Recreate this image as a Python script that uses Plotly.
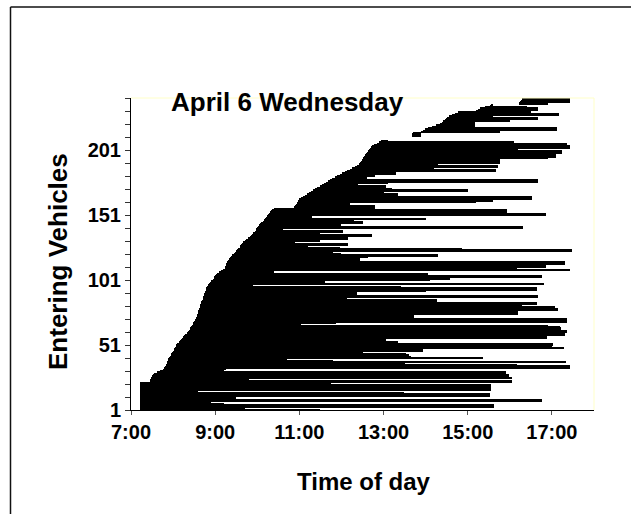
import plotly.graph_objects as go

# Entry (start) and exit (end) time of each vehicle, in decimal hours, ordered by entry
starts = [
    7.22, 7.22, 7.22, 7.22, 7.22, 7.22, 7.22, 7.22, 7.22, 7.22,
    7.22, 7.22, 7.22, 7.22, 7.22, 7.22, 7.22, 7.22, 7.22, 7.22,
    7.22, 7.22, 7.45, 7.45, 7.47, 7.48, 7.50, 7.52, 7.55, 7.62,
    7.70, 7.76, 7.78, 7.80, 7.82, 7.83, 7.85, 7.86, 7.88, 7.89,
    7.90, 7.92, 7.94, 7.96, 7.98, 8.00, 8.01, 8.03, 8.04, 8.06,
    8.08, 8.10, 8.13, 8.16, 8.18, 8.20, 8.23, 8.26, 8.29, 8.32,
    8.35, 8.37, 8.39, 8.41, 8.43, 8.45, 8.47, 8.48, 8.50, 8.52,
    8.54, 8.55, 8.56, 8.57, 8.58, 8.59, 8.60, 8.61, 8.62, 8.63,
    8.64, 8.65, 8.66, 8.67, 8.68, 8.70, 8.71, 8.72, 8.73, 8.74,
    8.75, 8.76, 8.77, 8.78, 8.79, 8.81, 8.83, 8.85, 8.88, 8.91,
    8.94, 8.96, 8.98, 9.00, 9.02, 9.04, 9.08, 9.13, 9.18, 9.23,
    9.24, 9.25, 9.26, 9.27, 9.28, 9.30, 9.32, 9.35, 9.38, 9.41,
    9.44, 9.47, 9.50, 9.53, 9.55, 9.58, 9.60, 9.62, 9.64, 9.66,
    9.70, 9.74, 9.78, 9.82, 9.85, 9.88, 9.91, 9.94, 9.96, 9.98,
    10.00, 10.02, 10.04, 10.07, 10.10, 10.13, 10.16, 10.19, 10.21, 10.23,
    10.25, 10.28, 10.30, 10.32, 10.35, 10.40, 10.88, 10.90, 10.92, 10.94,
    10.96, 10.97, 10.99, 11.03, 11.08, 11.13, 11.18, 11.23, 11.28, 11.32,
    11.38, 11.43, 11.48, 11.53, 11.58, 11.63, 11.68, 11.73, 11.78, 11.84,
    11.90, 11.96, 12.02, 12.08, 12.13, 12.20, 12.26, 12.32, 12.37, 12.41,
    12.44, 12.46, 12.48, 12.50, 12.52, 12.54, 12.56, 12.58, 12.60, 12.62,
    12.65, 12.68, 12.70, 12.73, 12.78, 12.84, 12.90, 12.95, 13.20, 13.35,
    13.50, 13.67, 13.68, 13.70, 13.90, 13.94, 13.98, 14.05, 14.15, 14.25,
    14.33, 14.38, 14.42, 14.46, 14.48, 14.50, 14.55, 14.62, 14.70, 14.76,
    15.20, 15.25, 15.30, 15.40, 15.53, 15.55, 16.22, 16.24, 16.26, 16.30,
    16.64,
]

ends = [
    11.5, 9.45, 9.7, 15.63, 15.63, 9.2, 8.9, 16.76, 16.76, 9.5,
    9.3, 15.53, 15.53, 13.49, 8.6, 8.5, 15.55, 15.55, 15.55, 15.55,
    11.74, 11.74, 16.05, 9.8, 9.4, 16.05, 15.99, 15.99, 9.1, 15.9,
    9.15, 9.2, 9.25, 17.42, 17.42, 16.16, 13.5, 17.33, 11.79, 10.7,
    15.36, 13.65, 13.6, 13.53, 11.39, 12.5, 13.93, 12.2, 17.29, 17.0,
    17.02, 17.02, 13.35, 10.5, 13.07, 10.73, 16.88, 16.88, 17.31, 17.31,
    17.37, 17.37, 17.21, 17.21, 17.2, 16.9, 11.03, 11.88, 17.37, 17.37,
    17.37, 13.73, 13.73, 11.31, 16.2, 16.2, 16.2, 17.15, 17.15, 17.08,
    16.28, 16.28, 16.64, 12.97, 14.26, 14.26, 12.12, 16.68, 16.68, 12.36,
    12.36, 10.2, 14.0, 16.64, 16.64, 13.41, 9.9, 16.81, 11.6, 11.6,
    14.1, 14.58, 14.58, 16.77, 14.06, 14.06, 10.4, 9.4, 17.42, 16.16,
    16.85, 16.85, 10.6, 17.31, 17.31, 12.44, 12.44, 9.6, 12.64, 14.3,
    12.0, 11.8, 11.8, 17.47, 14.86, 11.96, 11.2, 12.16, 12.16, 10.9,
    11.49, 11.0, 12.16, 10.5, 12.72, 12.72, 11.5, 12.04, 12.04, 10.6,
    16.32, 16.32, 11.2, 12.0, 12.52, 12.52, 12.3, 14.02, 11.0, 11.3,
    16.85, 16.85, 14.1, 15.93, 15.93, 12.6, 12.8, 12.8, 11.5, 12.2,
    15.2, 15.61, 13.3, 16.52, 16.52, 12.1, 13.35, 12.6, 13.0, 15.0,
    13.2, 13.06, 13.06, 12.4, 12.3, 13.1, 16.68, 16.68, 12.3, 12.6,
    12.8, 12.7, 13.3, 13.3, 15.67, 15.67, 14.2, 15.73, 15.73, 14.3,
    15.77, 15.77, 15.77, 14.6, 16.9, 17.1, 17.1, 17.1, 17.24, 17.24,
    16.2, 13.1, 17.42, 17.42, 17.3, 17.35, 16.1, 13.1, 13.20, 13.35,
    13.50, 13.90, 13.90, 13.88, 15.77, 15.77, 17.12, 17.12, 14.9, 15.17,
    15.17, 15.17, 15.0, 16.0, 16.68, 16.68, 15.6, 17.18, 17.18, 16.5,
    15.9, 16.68, 16.68, 16.4, 15.56, 15.60, 16.9, 17.42, 17.42, 17.42,
    16.75,
]

x_tick_vals = [7, 9, 11, 13, 15, 17]
x_tick_text = ["7:00", "9:00", "11:00", "13:00", "15:00", "17:00"]
y_tick_vals = [1, 51, 101, 151, 201]
y_tick_text = ["1", "51", "101", "151", "201"]

vehicle_ids = list(range(1, len(starts) + 1))
durations = [e - s for s, e in zip(starts, ends)]

FONT = "Arial, 'Liberation Sans', Helvetica, sans-serif"

fig = go.Figure()
fig.add_trace(go.Bar(
    orientation="h",
    y=vehicle_ids,
    x=durations,
    base=starts,
    width=1.4,
    marker=dict(color="black", line=dict(width=0)),
    hoverinfo="skip",
    showlegend=False,
))

W, H = 631, 514
L, R, T, B = 131, 37, 98, 104
pw = W - L - R
ph = H - T - B

def px2paper_x(px):
    return (px - L) / pw

def px2paper_y(py):
    return (H - B - py) / ph

fig.update_layout(
    width=W, height=H,
    margin=dict(l=L, r=R, t=T, b=B, pad=0),
    paper_bgcolor="white",
    plot_bgcolor="white",
    bargap=0,
    font=dict(family=FONT, color="black"),
    xaxis=dict(
        range=[7, 18],
        tickvals=x_tick_vals,
        ticktext=x_tick_text,
        ticks="outside", ticklen=4, tickwidth=1, tickcolor="#555555",
        showline=True, linecolor="black", linewidth=1,
        showgrid=False, zeroline=False,
        tickfont=dict(family=FONT, size=20, weight="bold", color="black"),
        fixedrange=True,
    ),
    yaxis=dict(
        range=[1, 241],
        tickvals=y_tick_vals,
        ticktext=y_tick_text,
        ticks="outside", ticklen=5, tickwidth=1, tickcolor="#333333",
        minor=dict(tick0=1, dtick=10, ticks="outside", ticklen=5,
                   tickwidth=1, tickcolor="#333333", showgrid=False),
        showline=True, linecolor="black", linewidth=1,
        showgrid=False, zeroline=False,
        tickfont=dict(family=FONT, size=20, weight="bold", color="black"),
        fixedrange=True,
    ),
    shapes=[
        # faint top and right border of the plot area
        dict(type="line", xref="paper", yref="paper", x0=0, x1=1, y0=1, y1=1,
             line=dict(color="#FFFFC8", width=1)),
        dict(type="line", xref="paper", yref="paper", x0=1, x1=1, y0=0, y1=1,
             line=dict(color="#FFFFC8", width=1)),
        # outer frame (left and top edges)
        dict(type="line", xref="paper", yref="paper",
             x0=px2paper_x(10.5), x1=px2paper_x(10.5),
             y0=px2paper_y(7), y1=px2paper_y(530),
             line=dict(color="#111111", width=1.5)),
        dict(type="line", xref="paper", yref="paper",
             x0=px2paper_x(10.5), x1=px2paper_x(640),
             y0=px2paper_y(7), y1=px2paper_y(7),
             line=dict(color="#111111", width=1.5)),
    ],
    annotations=[
        dict(text="April 6 Wednesday", xref="paper", yref="paper",
             x=px2paper_x(287), y=px2paper_y(102), xanchor="center", yanchor="middle",
             showarrow=False, font=dict(family=FONT, size=26, weight="bold", color="black")),
        dict(text="Entering Vehicles", xref="paper", yref="paper", textangle=-90,
             x=px2paper_x(58), y=px2paper_y(262), xanchor="center", yanchor="middle",
             showarrow=False, font=dict(family=FONT, size=26, weight="bold", color="black")),
        dict(text="Time of day", xref="paper", yref="paper",
             x=px2paper_x(364), y=px2paper_y(481), xanchor="center", yanchor="middle",
             showarrow=False, font=dict(family=FONT, size=24, weight="bold", color="black")),
    ],
)

fig.write_html("out.html", include_plotlyjs=True, config={"displayModeBar": False})
